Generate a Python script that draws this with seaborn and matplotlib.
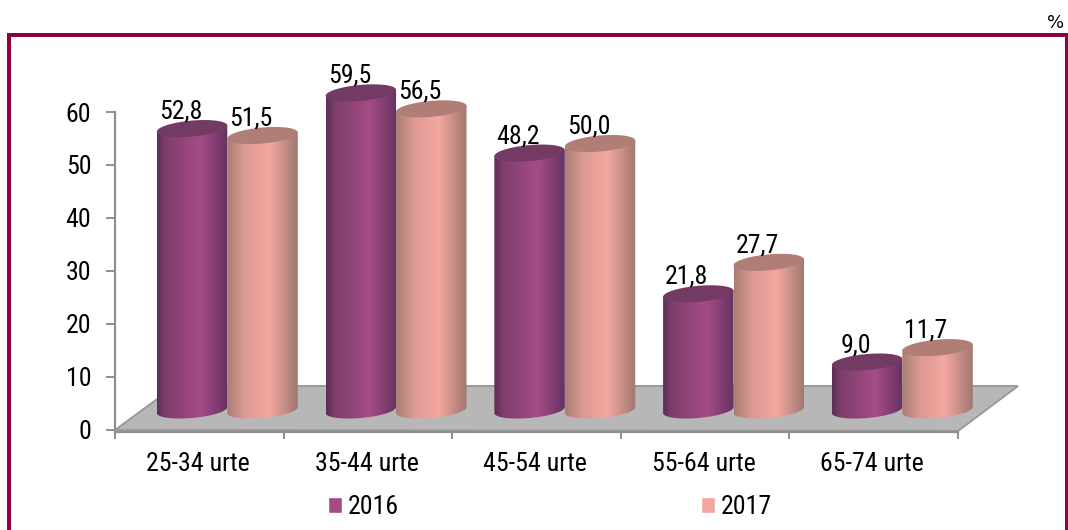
import numpy as np
import pandas as pd
import matplotlib
matplotlib.use("Agg")
import matplotlib.pyplot as plt
import seaborn as sns
from matplotlib.colors import LinearSegmentedColormap
from matplotlib.patches import Polygon, PathPatch, Patch
from matplotlib.path import Path
from matplotlib.lines import Line2D

categories = ["25-34 urte", "35-44 urte", "45-54 urte", "55-64 urte", "65-74 urte"]
values_2016 = [52.8, 59.5, 48.2, 21.8, 9.0]
values_2017 = [51.5, 56.5, 50.0, 27.7, 11.7]
labels_2016 = ["52,8", "59,5", "48,2", "21,8", "9,0"]
labels_2017 = ["51,5", "56,5", "50,0", "27,7", "11,7"]
series_names = ["2016", "2017"]
y_ticks = [0, 10, 20, 30, 40, 50, 60]

W, H = 1068, 530
PURPLE, PINK = "#a24b85", "#f3a69f"
TEXT = "#000000"

sns.set_theme(style="white")
plt.rcParams["font.family"] = ["Roboto Condensed", "Liberation Sans", "DejaVu Sans"]
FS = 18.6

fig = plt.figure(figsize=(W / 100, H / 100), dpi=100, facecolor="white")

def fx(p): return p / W
def fy(p): return 1 - p / H

# frame (open at the bottom, cut by the picture edge)
FRAME = "#8e0045"
fig.add_artist(Line2D([fx(9.3), fx(9.3), fx(1067), fx(1067)],
                      [fy(H + 5), fy(35), fy(35), fy(H + 5)],
                      transform=fig.transFigure, color=FRAME, lw=2.9,
                      solid_joinstyle="miter", zorder=0))
fig.text(fx(1056), fy(23.5), "%", ha="center", va="center", fontsize=13,
         family="DejaVu Sans", color=TEXT)

# floor
floor_px = [(115, 430), (175, 386), (1018, 386), (958, 431)]
fig.add_artist(Polygon([(fx(a), fy(b)) for a, b in floor_px], closed=True,
                       transform=fig.transFigure, facecolor="#b7b7b7",
                       edgecolor="#9a9a9a", lw=1.4, zorder=0))

# front axes: value axis and category axis
x0, x1 = 115, 958
y_zero, y_sixty = 429.5, 112
py = (y_zero - y_sixty) / 60
bottom_px = 431.5
ax0 = fig.add_axes([fx(x0), fy(bottom_px), (x1 - x0) / W, (bottom_px - y_sixty) / H], zorder=1)
ax0.patch.set_alpha(0)
ax0.set_xlim(-0.5, 4.5)
ax0.set_ylim(-(bottom_px - y_zero) / py, 60)
for s in ["top", "right"]:
    ax0.spines[s].set_visible(False)
for s in ["left", "bottom"]:
    ax0.spines[s].set_color("#8f8f8f")
    ax0.spines[s].set_linewidth(1.6)
ax0.set_yticks(y_ticks)
ax0.set_yticklabels([str(t) for t in y_ticks], fontsize=FS, color=TEXT)
ax0.tick_params(axis="y", length=6.5, width=1.4, color="#8f8f8f", pad=10.5, left=True)
ax0.set_xticks(np.arange(-0.5, 5, 1))
ax0.set_xticklabels([])
ax0.set_xticks(np.arange(5) - 0.008, minor=True)
ax0.set_xticklabels(categories, minor=True, fontsize=FS, color=TEXT)
ax0.tick_params(axis="x", which="major", length=5, width=1.4, color="#8f8f8f", bottom=True)
ax0.tick_params(axis="x", which="minor", length=0, pad=14.5, bottom=False)

# bars axes, shifted back onto the floor
step = 168.75
scale = 5.33
base_px = 410.0
left_px = 227.3 - step / 2
top_px = 40.0
ax = fig.add_axes([fx(left_px), fy(base_px), 5 * step / W, (base_px - top_px) / H], zorder=2)
ax.patch.set_alpha(0)

df = pd.DataFrame({
    "cat": categories * 2,
    "val": values_2016 + values_2017,
    "year": [series_names[0]] * 5 + [series_names[1]] * 5,
})
sns.barplot(data=df, x="cat", y="val", hue="year", hue_order=series_names,
            palette=[PURPLE, PINK], width=0.835, gap=0, saturation=1,
            legend=False, ax=ax)
ax.set_xlim(-0.5, 4.5)
ax.set_ylim(0, (base_px - top_px) / scale)
ax.axis("off")

cmaps = {
    0: LinearSegmentedColormap.from_list("p", [(0, "#5a2f55"), (0.12, "#7f3d6c"), (0.62, "#a54c87"), (1, "#653160")]),
    1: LinearSegmentedColormap.from_list("q", [(0, "#a87d73"), (0.25, "#dc9a93"), (0.6, "#f4a8a1"), (1, "#9f776e")]),
}
tops = {0: "#733a63", 1: "#b07e76"}
b_px, shear = 8.0, 3.0
t = np.linspace(0, 2 * np.pi, 121)
grad = np.linspace(0, 1, 256).reshape(1, -1)

bars = [r for r in ax.patches if r.get_height() > 0]
bars = sorted(bars, key=lambda r: r.get_x())
for r in bars:
    xl, w, v = r.get_x(), r.get_width(), r.get_height()
    cx = xl + w / 2
    idx = int(round(cx))
    s = 0 if cx < idx else 1
    ex = cx + w / 2 * np.cos(t)
    edy = (-b_px * np.sin(t) + shear * np.cos(t)) / scale   # offset in value units (up positive)
    lower = (t >= 0) & (t <= np.pi)
    low_x, low_y = ex[lower], edy[lower]
    order = np.argsort(low_x)
    bx = np.r_[xl, low_x[order], xl + w]
    by = np.r_[v - shear / scale, low_y[order], v + shear / scale]
    im = ax.imshow(grad, cmap=cmaps[s], extent=[xl, xl + w, -3, v + 2], aspect="auto",
                   zorder=3 + xl, interpolation="bilinear")
    clip = PathPatch(Path(np.c_[bx, by]), transform=ax.transData, facecolor="none", edgecolor="none")
    clip.set_clip_on(False)
    ax.add_patch(clip)
    im.set_clip_box(fig.bbox)
    im.set_clip_path(clip)
    ax.fill(ex, v + edy, color=tops[s], lw=0, zorder=3 + xl + 0.01, clip_on=False)
    r.set_visible(False)
    lab = (labels_2016 if s == 0 else labels_2017)[idx]
    ax.annotate(lab, (cx, v), xytext=(-11.5 * 0.72, 10 * 0.72), textcoords="offset points",
                ha="center", va="baseline", fontsize=FS, color=TEXT, zorder=10,
                annotation_clip=False)
ax.set_xlim(-0.5, 4.5)
ax.set_ylim(0, (base_px - top_px) / scale)

# legend
handles = [Patch(facecolor=PURPLE, label=series_names[0]),
           Patch(facecolor=PINK, label=series_names[1])]
leg = fig.legend(handles=handles, ncol=2, frameon=False, fontsize=FS,
                 loc="center", bbox_to_anchor=(fx(550), fy(507)),
                 handlelength=0.54, handleheight=0.54, handletextpad=0.23,
                 columnspacing=11.7, borderpad=0, borderaxespad=0)
for tx in leg.get_texts():
    tx.set_color(TEXT)

fig.savefig("out.png", dpi=100, facecolor="white")
